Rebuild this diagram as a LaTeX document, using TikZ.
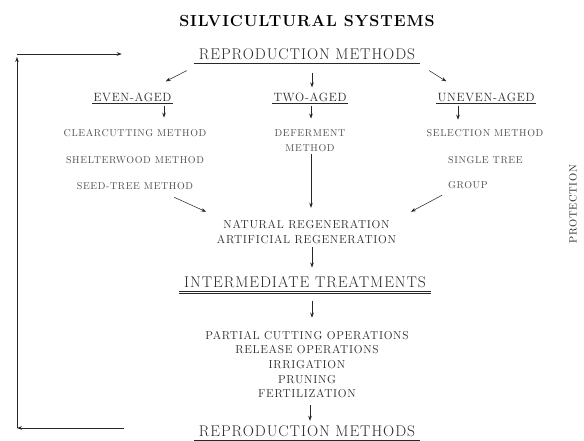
\documentclass[tikz,border=0pt]{standalone}
\usepackage{fontspec}
\setmainfont{Latin Modern Roman}[LetterSpace=6]
\usepackage{tikz}
\usetikzlibrary{arrows.meta, positioning}
\definecolor{inkgray}{RGB}{40,40,40}
\definecolor{softgray}{RGB}{80,80,80}

\begin{document}
\begin{tikzpicture}[
    x=1pt, y=-1pt,
    node distance=16.8pt,
    heading/.style={font=\fontsize{16}{19}\selectfont\bfseries, text=black, inner sep=1pt},
    stage/.style={font=\fontsize{15.5}{18}\selectfont, text=inkgray, inner xsep=5pt, inner ysep=4.5pt},
    stagerule/.style={draw=inkgray, double=white, double distance=0.6pt, line width=0.9pt},
    ageclass/.style={font=\fontsize{12}{14}\selectfont, text=inkgray, inner xsep=1pt, inner ysep=2pt},
    agerule/.style={draw=inkgray, line width=0.6pt},
    method/.style={font=\fontsize{10}{14.5}\selectfont, text=softgray, inner sep=1pt, align=center},
    treat/.style={font=\fontsize{11.5}{14.7}\selectfont, text=inkgray, inner sep=1pt, align=center},
    arrow/.style={-{Stealth[length=5pt, width=3.6pt]}, draw=inkgray, line width=0.55pt}
]
\useasboundingbox (0,0) rectangle (584,441);

% Title and first stage
\node[heading] (title) at (307,21) {SILVICULTURAL SYSTEMS};
\node[stage] (rep) at (307,54) {REPRODUCTION METHODS};
\draw[stagerule] (rep.south west) -- (rep.south east);

% Age classes
\node[ageclass] (even) at (132.5,97) {EVEN-AGED};
\node[ageclass] (two) at (310,97) {TWO-AGED};
\node[ageclass] (uneven) at (486,97) {UNEVEN-AGED};
\foreach \g in {even,two,uneven}
  \draw[agerule] (\g.south west) -- (\g.south east);

% Methods
\node[method] (clear) at (135,133.5) {CLEARCUTTING METHOD};
\node[method, below=of clear] (shelter) {SHELTERWOOD METHOD};
\node[method, below=of shelter] (seed) {SEED-TREE METHOD};
\node[method] (defer) at (310,140.5) {DEFERMENT\\METHOD};
\node[method] (select) at (485,133.5) {SELECTION METHOD};
\node[method, anchor=west] (single) at (447,160) {SINGLE TREE};
\node[method, anchor=west] (groupsel) at (447,185) {GROUP};

% Regeneration and treatments
\node[treat, font=\fontsize{11.5}{15}\selectfont] (regen) at (306.5,232.5)
  {NATURAL REGENERATION\\ARTIFICIAL REGENERATION};
\node[stage] (inter) at (305,282) {INTERMEDIATE TREATMENTS};
\draw[stagerule] (inter.south west) -- (inter.south east);
\node[treat] (ops) at (307,364.5)
  {PARTIAL CUTTING OPERATIONS\\RELEASE OPERATIONS\\IRRIGATION\\PRUNING\\FERTILIZATION};
\node[stage] (repnext) at (307,431) {REPRODUCTION METHODS};
\draw[stagerule] (repnext.south west) -- (repnext.south east);

% Side label
\node[method, rotate=90, text=inkgray, font=\fontsize{10.5}{13}\selectfont] (prot) at (573,204) {PROTECTION};

% Arrows
\draw[arrow] ([xshift=-7pt,yshift=-6.4pt]rep.south west) -- ([xshift=-7pt,yshift=9pt]even.north east);
\draw[arrow] ([xshift=5pt,yshift=-8.4pt]rep.south) -- ([xshift=2pt,yshift=3pt]two.north);
\draw[arrow] ([xshift=9pt,yshift=-6.4pt]rep.south east) -- ([xshift=10pt,yshift=9pt]uneven.north west);
\draw[arrow] ([xshift=31.5pt,yshift=-2pt]even.south) -- ([xshift=29pt,yshift=11pt]clear.north);
\draw[arrow] ([xshift=1pt,yshift=-2pt]two.south) -- ([xshift=1pt,yshift=10pt]defer.north);
\draw[arrow] ([xshift=-28pt,yshift=-2pt]uneven.south) -- ([xshift=-27pt,yshift=9pt]select.north);
\draw[arrow] ([xshift=-20pt,yshift=-6pt]seed.south east) -- ([xshift=-9.7pt,yshift=7.8pt]regen.north west);
\draw[arrow] ([xshift=1pt,yshift=-2pt]defer.south) -- ([xshift=4.5pt,yshift=11.8pt]regen.north);
\draw[arrow] ([xshift=-5pt,yshift=-5.4pt]groupsel.south west) -- ([xshift=13.7pt,yshift=7.8pt]regen.north east);
\draw[arrow] ([xshift=5.5pt,yshift=-1.8pt]regen.south) -- ([xshift=7pt,yshift=4.2pt]inter.north);
\draw[arrow] ([xshift=7pt,yshift=-8.2pt]inter.south) -- ([xshift=5pt,yshift=12pt]ops.north);
\draw[arrow] ([xshift=3pt,yshift=-6pt]ops.south) -- ([xshift=3pt]repnext.north);

% Feedback loop
\coordinate (loopbot) at (17,428);
\coordinate (looptop) at (17,54);
\draw[arrow] ([xshift=-70pt,yshift=3pt]repnext.west) -- (loopbot);
\draw[arrow] (loopbot) -- ([yshift=-3pt]looptop);
\draw[arrow] (looptop) -- ([xshift=-72pt]rep.west);
\end{tikzpicture}
\end{document}
